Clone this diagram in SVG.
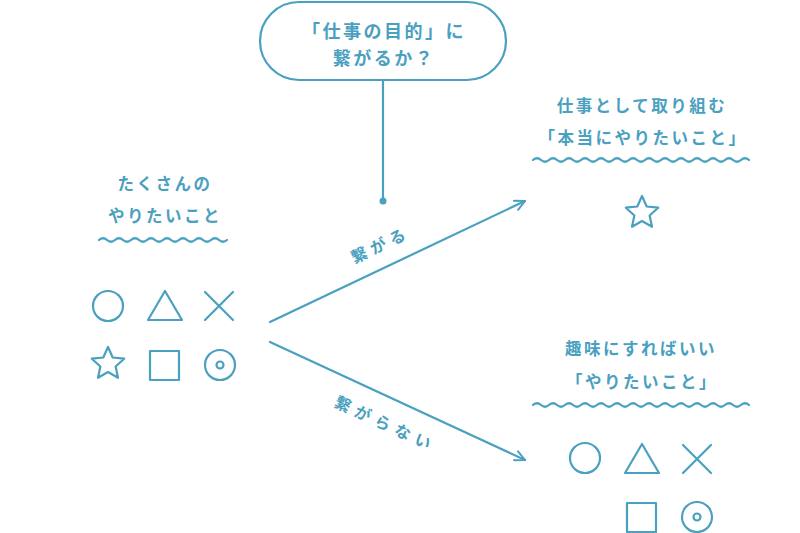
<svg xmlns="http://www.w3.org/2000/svg" xmlns:xlink="http://www.w3.org/1999/xlink" width="800" height="533" viewBox="0 0 800 533">
<style>
.s{fill:none;stroke:#4aa0bf;stroke-width:2.2;stroke-linecap:round;stroke-linejoin:round}
.t{font-family:"Noto Sans CJK JP","Noto Sans",sans-serif;font-weight:700;fill:#4aa0bf;text-anchor:middle;dominant-baseline:central}
.h{font-size:16.5px;letter-spacing:2.5px}
.p{font-size:18px;letter-spacing:2.5px}
.l{font-size:16px;letter-spacing:5px}
</style>
<defs>
<path id="star" d="M0,-17 L4.7,-6.5 L16.2,-5.3 L7.6,2.5 L10,13.8 L0,8 L-10,13.8 L-7.6,2.5 L-16.2,-5.3 L-4.7,-6.5 Z"/>
<circle id="circ" r="15"/>
<path id="tri" d="M0,-15 L17,14 L-17,14 Z"/>
<path id="cross" d="M-14,-14 L14,14 M14,-14 L-14,14"/>
<rect id="sq" x="-14.5" y="-14.5" width="29" height="29"/>
<g id="dot"><circle r="15"/><circle r="3.5"/></g>
<marker id="arr" viewBox="0 0 12 12" refX="11" refY="6" markerWidth="12" markerHeight="12" markerUnits="userSpaceOnUse" orient="auto">
<path d="M1,1 L11,6 L1,11" fill="none" stroke="#4aa0bf" stroke-width="2" stroke-linecap="round" stroke-linejoin="round"/>
</marker>
</defs>
<rect width="800" height="533" fill="#ffffff"/>

<g id="question">
<rect class="s" x="260" y="2" width="246" height="78" rx="39"/>
<text class="t p" x="384" y="30">「仕事の目的」に</text>
<text class="t p" x="384" y="57">繋がるか？</text>
</g>

<g id="many">
<text class="t h" x="165" y="183">たくさんの</text>
<text class="t h" x="165" y="215">やりたいこと</text>
<path class="s" d="M99,240 q4,-3.5 8,0 t8,0 t8,0 t8,0 t8,0 t8,0 t8,0 t8,0 t8,0 t8,0 t8,0 t8,0 t8,0 t8,0 t8,0 t8,0"/>
<g class="s">
<use xlink:href="#circ" x="108" y="306"/>
<use xlink:href="#tri" x="165" y="306"/>
<use xlink:href="#cross" x="219" y="306"/>
<use xlink:href="#star" x="108" y="364"/>
<use xlink:href="#sq" x="164.5" y="365.5"/>
<use xlink:href="#dot" x="220" y="365"/>
</g>
</g>

<g id="work">
<text class="t h" x="642" y="105">仕事として取り組む</text>
<text class="t h" x="643" y="137">「本当にやりたいこと」</text>
<path class="s" d="M533,160 q4,-3.5 8,0 t8,0 t8,0 t8,0 t8,0 t8,0 t8,0 t8,0 t8,0 t8,0 t8,0 t8,0 t8,0 t8,0 t8,0 t8,0 t8,0 t8,0 t8,0 t8,0 t8,0 t8,0 t8,0 t8,0 t8,0 t8,0 t8,0"/>
<use class="s" xlink:href="#star" x="642" y="213"/>
</g>

<g id="hobby">
<text class="t h" x="641" y="348">趣味にすればいい</text>
<text class="t h" x="642" y="381">「やりたいこと」</text>
<path class="s" d="M533,405 q4,-3.5 8,0 t8,0 t8,0 t8,0 t8,0 t8,0 t8,0 t8,0 t8,0 t8,0 t8,0 t8,0 t8,0 t8,0 t8,0 t8,0 t8,0 t8,0 t8,0 t8,0 t8,0 t8,0 t8,0 t8,0 t8,0 t8,0 t8,0"/>
<g class="s">
<use xlink:href="#circ" x="585" y="458"/>
<use xlink:href="#tri" x="642" y="459"/>
<use xlink:href="#cross" x="697" y="459"/>
<use xlink:href="#sq" x="641.5" y="517.5"/>
<use xlink:href="#dot" x="697" y="517"/>
</g>
</g>

<g id="connectors">
<line class="s" x1="383" y1="80" x2="383" y2="200"/>
<circle cx="383" cy="201" r="3.5" fill="#4aa0bf"/>
<line class="s" x1="270" y1="322" x2="525" y2="201" marker-end="url(#arr)"/>
<line class="s" x1="270" y1="342" x2="525" y2="460" marker-end="url(#arr)"/>
<text class="t l" transform="translate(380,244) rotate(-25.4)">繋がる</text>
<text class="t l" style="letter-spacing:6px" transform="translate(386,423) rotate(24.8)">繋がらない</text>
</g>
</svg>
